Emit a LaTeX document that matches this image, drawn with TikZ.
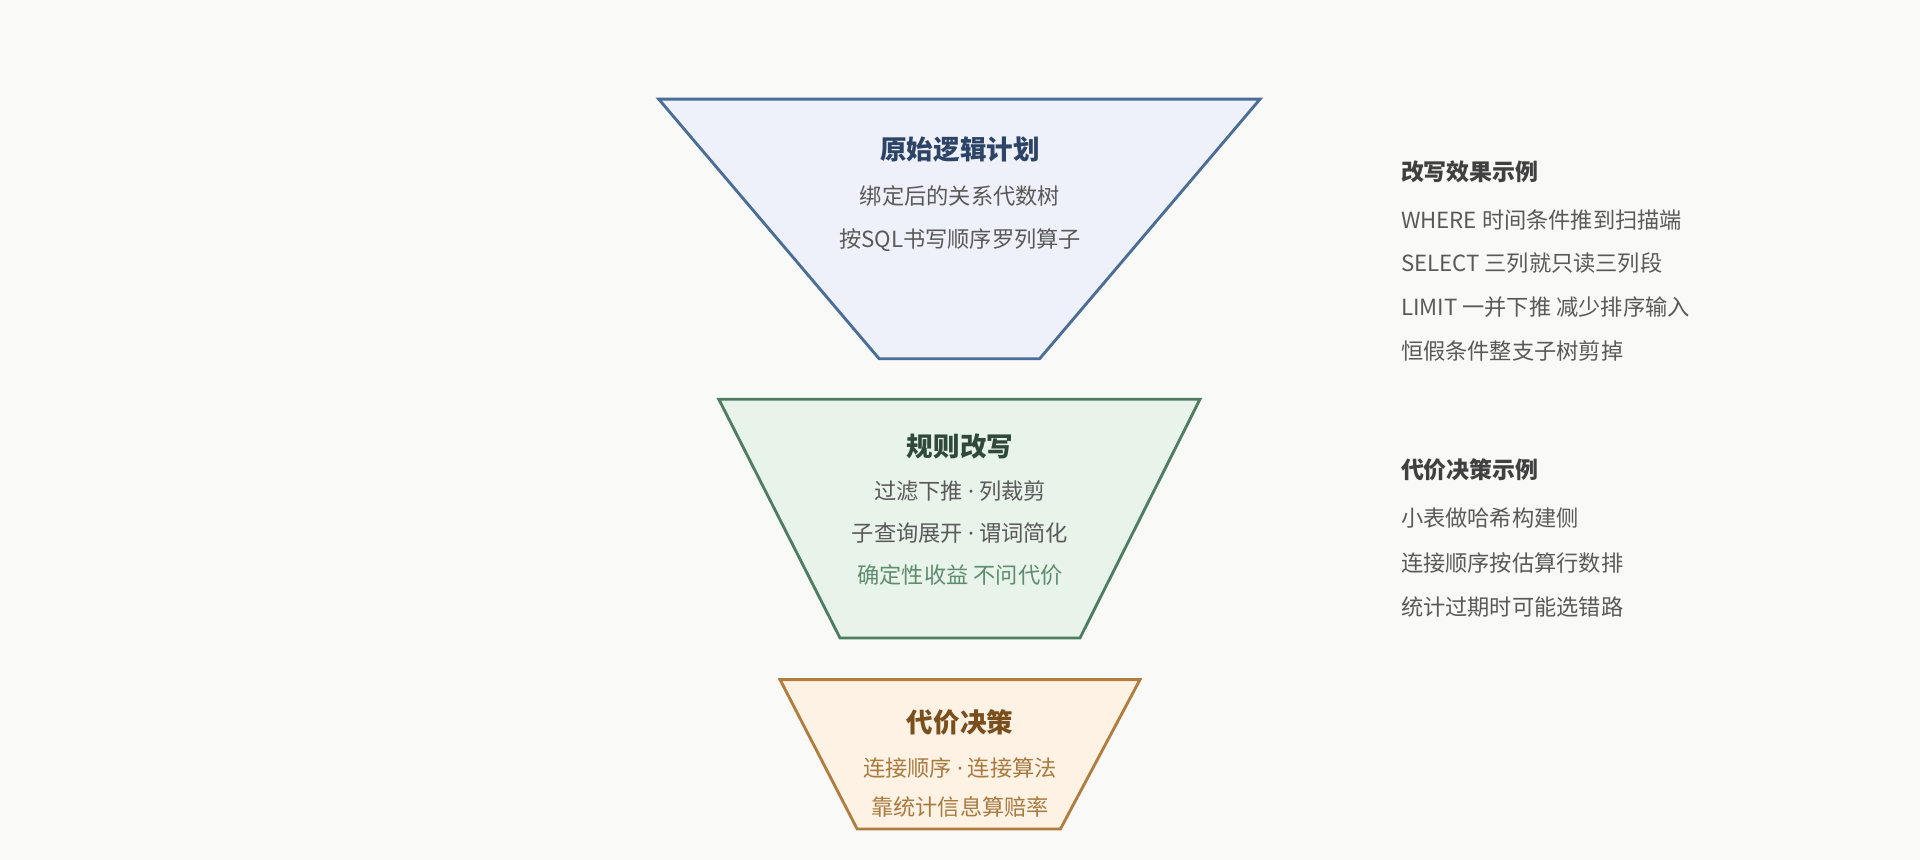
\documentclass[tikz,border=0pt]{standalone}
\usepackage{fontspec}
\setmainfont{Noto Sans CJK SC}
\newfontfamily\latn{Noto Sans}
\newcommand{\md}{{\latn ·}}
\begin{document}
\begin{tikzpicture}[x=0.03cm,y=-0.03cm,
  trap/.style={line width=2pt,line join=miter},
  ttl/.style={font=\fontsize{18.5}{21}\selectfont\bfseries,anchor=center},
  txt/.style={font=\fontsize{15.5}{18}\selectfont,anchor=center,text=black!65},
  rt/.style={font=\fontsize{15.5}{18}\selectfont,anchor=west,text=black!65},
  rtt/.style={font=\fontsize{16}{19}\selectfont\bfseries,anchor=west,text=black!75}]
\definecolor{bg}{HTML}{F9F9F7}
\definecolor{f1}{HTML}{EEF1F9}\definecolor{s1}{HTML}{4A6E96}\definecolor{t1}{HTML}{2E4466}
\definecolor{f2}{HTML}{E8F3EA}\definecolor{s2}{HTML}{4E7D62}\definecolor{t2}{HTML}{2F4A3A}\definecolor{g2}{HTML}{5E8C6E}
\definecolor{f3}{HTML}{FDF2E4}\definecolor{s3}{HTML}{B07D3E}\definecolor{t3}{HTML}{7A4F1E}\definecolor{g3}{HTML}{A87A40}
\fill[bg] (0,0) rectangle (1568,702);
\useasboundingbox (0,0) rectangle (1568,702);
\draw[trap,fill=f1,draw=s1] (538,81) -- (1029,81) -- (849,293) -- (718,293) -- cycle;
\node[ttl,text=t1] (a) at (784,122) {原始逻辑计划};
\node[txt] (a1) at (784,160) {绑定后的关系代数树};
\node[txt] (a2) at (784,196) {按SQL书写顺序罗列算子};
\draw[trap,fill=f2,draw=s2] (587,326) -- (980,326) -- (882,521) -- (686,521) -- cycle;
\node[ttl,text=t2] (b) at (784,365) {规则改写};
\node[txt] (b1) at (784,401) {过滤下推 \md{} 列裁剪};
\node[txt] (b2) at (784,435) {子查询展开 \md{} 谓词简化};
\node[txt,text=g2] (b3) at (784,470) {确定性收益 不问代价};
\draw[trap,fill=f3,draw=s3] (637,555) -- (931,555) -- (866,677) -- (700,677) -- cycle;
\node[ttl,text=t3] (c) at (784,590) {代价决策};
\node[txt,text=g3] (c1) at (784,627) {连接顺序 \md{} 连接算法};
\node[txt,text=g3] (c2) at (784,659) {靠统计信息算赔率};
\node[rtt] (r) at (1140,140) {改写效果示例};
\node[rt] (r1) at (1140,180) {WHERE 时间条件推到扫描端};
\node[rt] (r2) at (1140,215) {SELECT 三列就只读三列段};
\node[rt] (r3) at (1140,251) {LIMIT 一并下推 减少排序输入};
\node[rt] (r4) at (1140,287) {恒假条件整支子树剪掉};
\node[rtt] (s) at (1140,384) {代价决策示例};
\node[rt] (s1) at (1140,423) {小表做哈希构建侧};
\node[rt] (s2) at (1140,460) {连接顺序按估算行数排};
\node[rt] (s3) at (1140,496) {统计过期时可能选错路};
\end{tikzpicture}
\end{document}
